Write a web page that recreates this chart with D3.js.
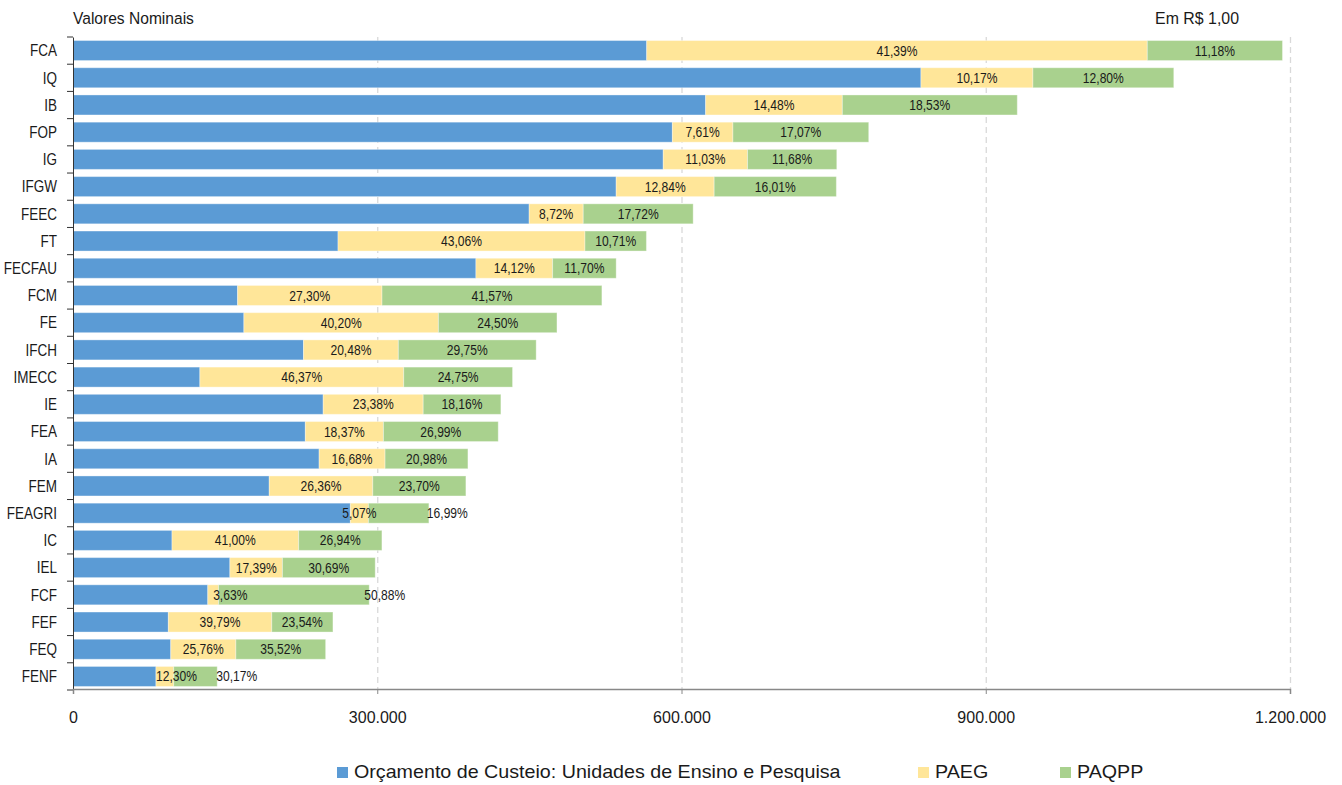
<!DOCTYPE html>
<html><head><meta charset="utf-8">
<script src="https://cdn.jsdelivr.net/npm/d3@7"></script>
<style>
body{margin:0;background:#fff;}
svg text{font-family:"Liberation Sans","Arial",sans-serif;fill:#1a1a1a;}
</style></head><body>
<svg id="c" width="1342" height="785"></svg>
<script>
const categories = ["FCA","IQ","IB","FOP","IG","IFGW","FEEC","FT","FECFAU","FCM","FE","IFCH","IMECC","IE","FEA","IA","FEM","FEAGRI","IC","IEL","FCF","FEF","FEQ","FENF"];
const custeio = [565700,836100,623800,591000,582000,535600,449800,261300,397300,162300,168500,227300,125100,246700,229100,242700,193500,273500,97600,154700,132900,94000,96400,81800];
const paeg    = [493600,110400,134800,59700,83100,96600,53300,243500,75600,142400,191800,93500,201000,98600,77000,65000,102100,17800,124900,51800,10600,102000,64200,17500];
const paqpp   = [133300,138900,172500,133900,88000,120500,108400,60600,62700,216800,116900,135900,107300,76600,113200,81700,91800,59600,82100,91500,148600,60300,88500,42900];
const paegPct  = ["41,39%","10,17%","14,48%","7,61%","11,03%","12,84%","8,72%","43,06%","14,12%","27,30%","40,20%","20,48%","46,37%","23,38%","18,37%","16,68%","26,36%","5,07%","41,00%","17,39%","3,63%","39,79%","25,76%","12,30%"];
const paqppPct = ["11,18%","12,80%","18,53%","17,07%","11,68%","16,01%","17,72%","10,71%","11,70%","41,57%","24,50%","29,75%","24,75%","18,16%","26,99%","20,98%","23,70%","16,99%","26,94%","30,69%","50,88%","23,54%","35,52%","30,17%"];
const xTicks = [0,300000,600000,900000,1200000];
const seriesNames = ["Orçamento de Custeio: Unidades de Ensino e Pesquisa","PAEG","PAQPP"];
const colors = ["#5B9BD5","#FFE699","#A9D18E"];

// label placement exceptions (styling)
const labelMode = {
  "FEAGRI|1": {anchor:"start", ref:"end", dx:-2},
  "FCF|0": {anchor:"start", ref:"mid", dx:0},
  "FCF|1": {anchor:"start", ref:"end", dx:-5},
  "FENF|0": {anchor:"start", ref:"start", dx:0},
  "FENF|1": {anchor:"start", ref:"end", dx:-1}
};

const svg = d3.select("#c");
function measure(str,size){const t=svg.append("text").attr("font-size",size).text(str);const w=t.node().getComputedTextLength();t.remove();return w;}
function condense(sel,sx){sel.each(function(){const t=d3.select(this);const xv=+t.attr("x")||0;t.attr("x",xv/sx).attr("transform",`scale(${sx},1)`);});}

const x = d3.scaleLinear().domain([0,1200000]).range([73,1290]);
const y = d3.scaleBand().domain(categories).range([37,690]).paddingInner(0.265).paddingOuter(0.13);

// grid
svg.append("g").selectAll("line").data(xTicks.slice(1)).join("line")
  .attr("x1",d=>x(d)+0.5).attr("x2",d=>x(d)+0.5).attr("y1",37).attr("y2",689)
  .attr("stroke","#d9d9d9").attr("stroke-width",1.3).attr("stroke-dasharray","6,4");

const rows = categories.map((c,i)=>({c,vals:[custeio[i],paeg[i],paqpp[i]],pct:[paegPct[i],paqppPct[i]]}));

const g = svg.append("g");
rows.forEach(r=>{
  let acc=0;
  r.vals.forEach((v,k)=>{
    g.append("rect").attr("x",x(acc)).attr("width",x(acc+v)-x(acc))
     .attr("y",y(r.c)).attr("height",y.bandwidth())
     .attr("fill",colors[k]).attr("stroke","#fff").attr("stroke-opacity",0.35).attr("stroke-width",1);
    acc+=v;
  });
});
// labels
const LS=14, lsx = 41/measure("41,39%",LS);
rows.forEach(r=>{
  let acc=r.vals[0];
  [1,2].forEach(k=>{
    const s=x(acc), e=x(acc+r.vals[k]);
    const m = labelMode[r.c+"|"+(k-1)];
    let px=(s+e)/2, anchor="middle";
    if(m){ anchor=m.anchor; px=(m.ref==="end"?e:m.ref==="start"?s:(s+e)/2)+m.dx; }
    g.append("text").attr("class","bl").attr("x",px).attr("y",y(r.c)+y.bandwidth()/2).attr("dy","0.36em")
     .attr("text-anchor",anchor).attr("font-size",LS).text(r.pct[k-1]);
    acc+=r.vals[k];
  });
});
condense(g.selectAll("text.bl"),lsx);

// y axis
const CS=16, csx = 27/measure("FCA",CS);
const ya = svg.append("g").attr("transform","translate(73,0)")
  .call(d3.axisLeft(y).tickSize(0).tickPadding(16));
ya.select(".domain").attr("stroke","#333");
ya.selectAll("text").attr("font-size",CS).attr("font-family",null).attr("dy","0.36em");
condense(ya.selectAll("text"),csx);
svg.append("g").selectAll("line").data(d3.range(categories.length+1)).join("line")
  .attr("x1",67).attr("x2",73).attr("y1",i=>y.range()[0]+(y.range()[1]-y.range()[0])*i/categories.length)
  .attr("y2",i=>y.range()[0]+(y.range()[1]-y.range()[0])*i/categories.length).attr("stroke","#333");

// x axis
const xa = svg.append("g").attr("transform","translate(0,689)")
  .call(d3.axisBottom(x).tickValues(xTicks).tickSize(5).tickPadding(18)
    .tickFormat(d=>d3.format(",")(d).replace(/,/g,".")));
xa.select(".domain").attr("stroke","#888").attr("stroke-width",1.5);
xa.selectAll(".tick line").attr("stroke","#888");
xa.selectAll("text").attr("font-size",16).attr("font-family",null);

const TS=17;
const t1=svg.append("text").attr("x",73).attr("y",24).attr("font-size",TS).text("Valores Nominais");
condense(t1, 121/measure("Valores Nominais",TS));
const t2=svg.append("text").attr("x",1239).attr("y",24).attr("text-anchor","end").attr("font-size",TS).text("Em R$ 1,00");
condense(t2, 84/measure("Em R$ 1,00",TS));

// legend
const GS=19, gsx = 487/measure(seriesNames[0],GS);
const legX=[337,918,1060];
seriesNames.forEach((n,k)=>{
  svg.append("rect").attr("x",legX[k]).attr("y",767).attr("width",11).attr("height",11).attr("fill",colors[k]);
  const t=svg.append("text").attr("x",legX[k]+17).attr("y",778).attr("font-size",GS).text(n);
  condense(t,gsx);
});
</script></body></html>
